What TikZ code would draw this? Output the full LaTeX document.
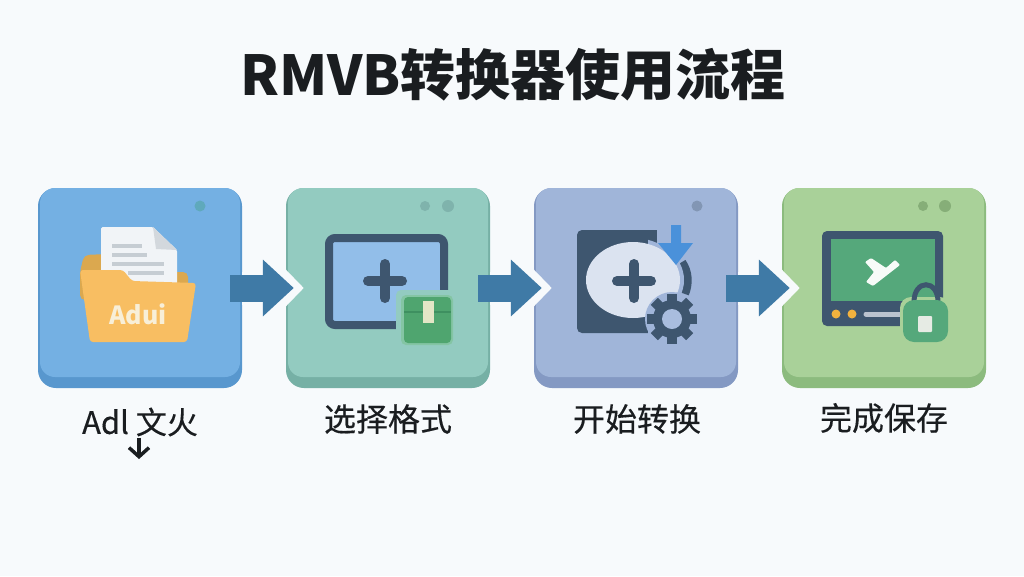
\documentclass[tikz,border=0pt]{standalone}
\usepackage{fontspec}
\usepackage{tikz}
\usetikzlibrary{arrows.meta}
\setmainfont{Noto Sans CJK SC}
\newfontfamily\labelfont[FakeBold=0.35]{Noto Sans CJK SC}
\definecolor{bgcol}{HTML}{F7FAFC}
\definecolor{inkcol}{HTML}{1A1D20}
\definecolor{darkcol}{HTML}{3E566F}
\definecolor{arrowcol}{HTML}{3F7AA6}
\definecolor{facea}{HTML}{74B0E3}
\definecolor{rima}{HTML}{5897CE}
\definecolor{faceb}{HTML}{93CBC0}
\definecolor{rimb}{HTML}{76B0A5}
\definecolor{facec}{HTML}{A0B5D9}
\definecolor{rimc}{HTML}{8499C3}
\definecolor{faced}{HTML}{A9D199}
\definecolor{rimd}{HTML}{8CBB7E}
\definecolor{dota}{HTML}{5FA9BC}
\definecolor{dotb}{HTML}{7FB3AC}
\definecolor{dotc}{HTML}{8296B4}
\definecolor{dotd}{HTML}{86AE78}
\definecolor{foldercol}{HTML}{F8BE62}
\definecolor{folderback}{HTML}{DBA84F}
\definecolor{papercol}{HTML}{F1F4F7}
\definecolor{foldcol}{HTML}{D3D8DD}
\definecolor{papertext}{HTML}{C6CDD3}
\definecolor{creamcol}{HTML}{F8EFD8}
\definecolor{framefill}{HTML}{92BEE9}
\definecolor{boxhalo}{HTML}{84C5A4}
\definecolor{boxcol}{HTML}{4FA56F}
\definecolor{boxline}{HTML}{3E9060}
\definecolor{ribboncol}{HTML}{E3E6C6}
\definecolor{disccol}{HTML}{DBE3F0}
\definecolor{bluecol}{HTML}{4A91DA}
\definecolor{gearhole}{HTML}{A9BDDE}
\definecolor{screencol}{HTML}{55A87B}
\definecolor{ledcol}{HTML}{F2B23E}
\definecolor{barcol}{HTML}{BAC3CF}
\definecolor{keycol}{HTML}{E6EBE4}
\tikzset{
    cardbox/.style={minimum width=204pt, minimum height=200pt, rounded corners=18pt, inner sep=0pt},
    steplabel/.style={font=\labelfont\fontsize{32}{34}\selectfont, text=inkcol},
    flowarrow/.style={draw=arrowcol, line width=27pt, -{Triangle[length=31pt, width=55pt]}, shorten <=-12pt, shorten >=-8pt},
    flowhalo/.style={draw=bgcol, line width=33pt, -{Triangle[length=40pt, width=80pt]}, shorten >=-18pt},
}
\begin{document}
\begin{tikzpicture}[x=1pt, y=-1pt]
    \useasboundingbox (0,0) rectangle (1024,576);
    \fill[bgcol] (0,0) rectangle (1024,576);
    % タイトル
    \node (title) at (513,75) [font=\fontsize{55}{58}\selectfont\bfseries, text=inkcol] {RMVB转换器使用流程};
    % カード本体
    \foreach \n/\px/\face/\rim in {1/140/facea/rima, 2/388/faceb/rimb, 3/636/facec/rimc, 4/884/faced/rimd} {
        \node (card\n) at (\px,288) [cardbox, fill=\rim] {};
        \fill[\face, rounded corners=15pt] (\px-100,188) rectangle (\px+100,377);
    }
    % 右上の点
    \fill[dota] (200,206) circle (5.5);
    \foreach \x/\r in {425/5, 448/6} { \fill[dotb] (\x,206) circle (\r); }
    \fill[dotc] (697,206) circle (5.5);
    \foreach \x/\r in {923/5, 945/6} { \fill[dotd] (\x,206) circle (\r); }
    % 矢印
    \foreach \a/\b in {1/2, 2/3, 3/4} {
        \draw[flowhalo] (card\a) -- (card\b);
        \draw[flowarrow] (card\a) -- (card\b);
    }
    % フォルダ
    \fill[folderback, rounded corners=5pt] (80,272) -- (84,255) -- (108,254) -- (108,272) -- (188,272) -- (188,300) -- (80,300) -- cycle;
    \fill[papercol, rounded corners=1.5pt] (101,227) -- (153,227) -- (177,250) -- (177,285) -- (101,285) -- cycle;
    \fill[foldcol] (153,227) -- (177,250) -- (156,249) -- cycle;
    \foreach \y/\xa/\xb in {246/112/142, 255/112/147, 264/112/164, 273/128/164} {
        \draw[papertext, line width=3.5pt] (\xa,\y) -- (\xb,\y);
    }
    \fill[foldercol, rounded corners=3pt] (80,270) -- (123,270) -- (132,281) -- (196,283) -- (187,342) -- (90,342) -- cycle;
    \node (foldertext) at (138,314) [font=\fontsize{25}{27}\selectfont\bfseries, text=creamcol] {Adui};
    % 枠とプラス
    \draw[draw=darkcol, fill=framefill, line width=8pt, rounded corners=6pt] (329,238) rectangle (444,325);
    \draw[darkcol, line width=10pt, line cap=round] (368,281) -- (402,281) (385,264) -- (385,298);
    % 緑の箱
    \fill[faceb, rounded corners=5pt] (396,290) rectangle (456,347);
    \fill[boxhalo, rounded corners=5pt] (401,295) rectangle (453,345);
    \fill[boxcol, rounded corners=4pt] (404,297) rectangle (451,343);
    \draw[boxline, line width=1.5pt] (404,312) -- (451,312);
    \fill[ribboncol] (423,301) rectangle (434,323);
    % 円盤
    \fill[darkcol, rounded corners=5pt] (577,230) rectangle (663,333);
    \fill[facec] (657,222) rectangle (690,256) (648,300) rectangle (670,340);
    \draw[darkcol, line width=8pt] (682,262) .. controls (689,272) and (689,284) .. (685,294);
    \begin{scope}
        \clip (648,215) rectangle (700,345);
        \fill[facec] (633,280) ellipse (51 and 42);
    \end{scope}
    \fill[disccol] (633,280) ellipse (47 and 38);
    \draw[darkcol, line width=10pt, line cap=round] (617,281) -- (651,281) (634,264) -- (634,298);
    % 青い矢印
    \fill[bluecol] (671,225) -- (681,225) -- (681,243) -- (693,243) -- (676,265) -- (658,243) -- (671,243) -- cycle;
    % 歯車
    \begin{scope}[shift={(672,319)}]
        \fill[facec] (0,0) circle (27);
        \foreach \a in {0,45,...,315} {
            \fill[darkcol, rotate=\a] (-5,-25) rectangle (5,-12);
        }
        \fill[darkcol] (0,0) circle (19);
        \fill[gearhole] (0,0) circle (10);
    \end{scope}
    % モニター
    \fill[darkcol, rounded corners=5pt] (822,231) rectangle (943,326);
    \fill[screencol] (831,239) rectangle (935,301);
    \fill[white!95!screencol, rounded corners=1pt] (865,262) -- (871,258) -- (886,268) -- (895,260) -- (900,265) -- (873,286) -- (866,282) -- (874,272) -- cycle;
    \foreach \x in {836,852} { \fill[ledcol] (\x,314) circle (4.5); }
    \draw[barcol, line width=5pt, line cap=round] (866,314) -- (902,314);
    % 錠前
    \fill[faced, rounded corners=11pt] (900,297) rectangle (951,345);
    \draw[darkcol, line width=5pt] (914,302) .. controls (914,279) and (938,279) .. (938,302);
    \fill[screencol, rounded corners=11pt] (903,300) rectangle (948,342);
    \fill[keycol, rounded corners=1pt] (918,316) rectangle (932,332);
    % ラベル
    \node (label1) at (140,422) [steplabel, font=\labelfont\fontsize{31}{33}\selectfont] {Adl 文火};
    \node (label2) at (388,419) [steplabel] {选择格式};
    \node (label3) at (637,419) [steplabel] {开始转换};
    \node (label4) at (884,418) [steplabel] {完成保存};
    % 下向きの矢印
    \coordinate (arrowtip) at (139,459);
    \draw[inkcol, line width=3.5pt, -{Straight Barb[length=9pt, width=20pt]}] (label1.south -| arrowtip) ++(0,-2) -- (arrowtip);
\end{tikzpicture}
\end{document}
